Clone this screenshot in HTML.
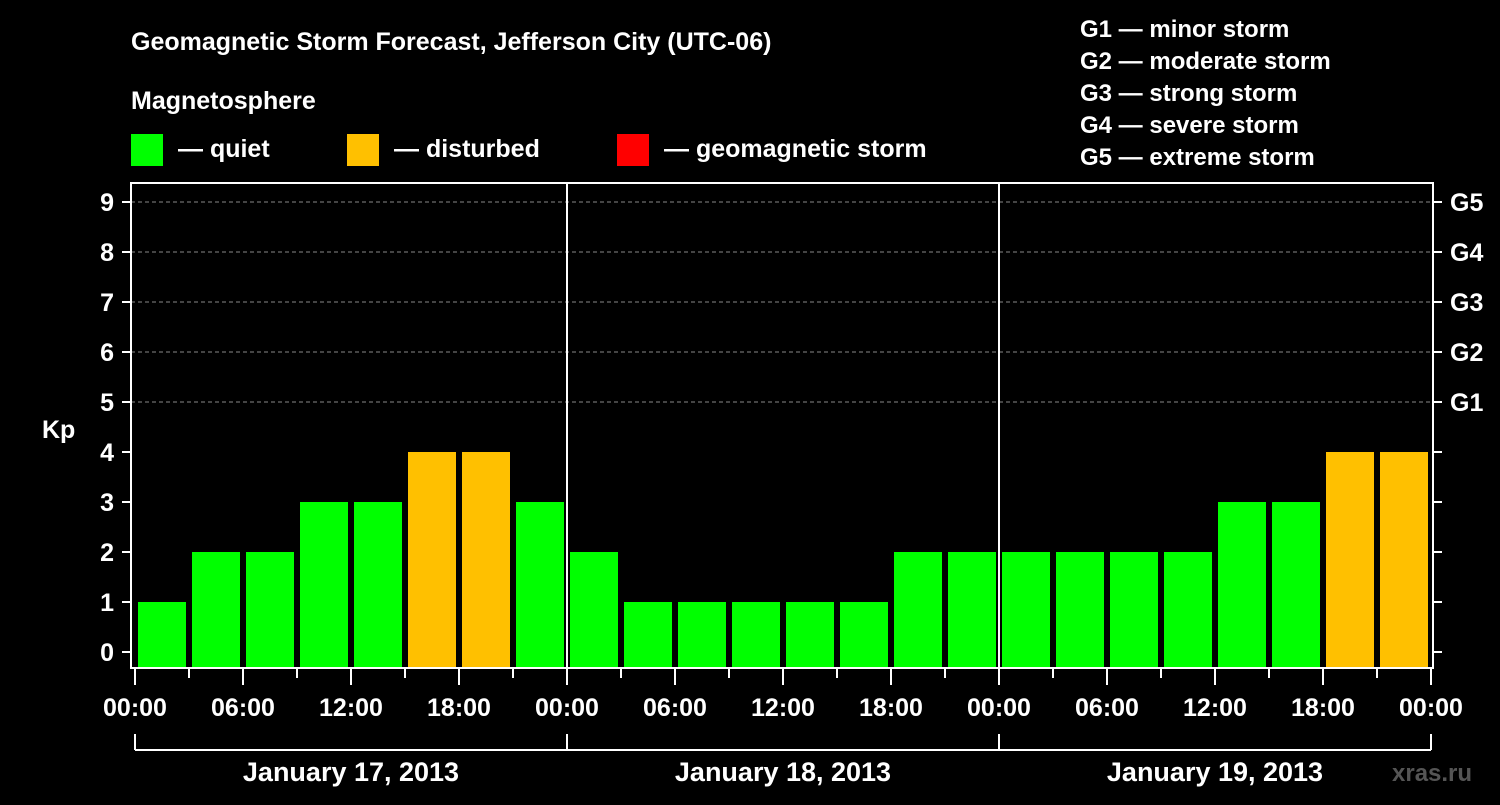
<!DOCTYPE html>
<html><head><meta charset="utf-8"><style>
html,body{margin:0;padding:0;background:#000;}
svg text{font-family:"Liberation Sans",Arial,sans-serif;font-weight:bold;fill:#fff;}
</style></head><body>
<svg id="c" width="1500" height="800" xmlns="http://www.w3.org/2000/svg">
<rect width="1500" height="800" fill="#000"/>
<text x="131" y="50" font-size="25">Geomagnetic Storm Forecast, Jefferson City (UTC-06)</text>
<text x="131" y="109" font-size="25">Magnetosphere</text>
<g>
<rect x="131" y="134" width="32" height="32" fill="#00ff00"/>
<text x="178" y="157" font-size="25">— quiet</text>
<rect x="347" y="134" width="32" height="32" fill="#ffc000"/>
<text x="394" y="157" font-size="25">— disturbed</text>
<rect x="617" y="134" width="32" height="32" fill="#ff0000"/>
<text x="664" y="157" font-size="25">— geomagnetic storm</text>
</g>
<g font-size="24">
<text x="1080" y="37">G1 — minor storm</text>
<text x="1080" y="69">G2 — moderate storm</text>
<text x="1080" y="101">G3 — strong storm</text>
<text x="1080" y="133">G4 — severe storm</text>
<text x="1080" y="165">G5 — extreme storm</text>
</g>
<text x="42" y="438" font-size="25">Kp</text>
<text x="1392" y="781" font-size="24" style="fill:#555">xras.ru</text>
<g id="grid"></g><g id="bars"></g><g id="axes"></g>
</svg>
<script>
const kpValues=[1,2,2,3,3,4,4,3, 2,1,1,1,1,1,2,2, 2,2,2,2,3,3,4,4];
const yTicks=[0,1,2,3,4,5,6,7,8,9];
const gLabels=["G1","G2","G3","G4","G5"];
const hourLabels=["00:00","06:00","12:00","18:00"];
const dayLabels=["January 17, 2013","January 18, 2013","January 19, 2013"];

const NS="http://www.w3.org/2000/svg";
const X0=135,HOUR=18,Y0=652,UNIT=50,L=131,R=1433,T=183,B=668;
const xs=h=>X0+h*HOUR, ys=v=>Y0-v*UNIT;
function mk(t,a,p){const e=document.createElementNS(NS,t);for(const k in a)e.setAttribute(k,a[k]);p.appendChild(e);return e;}
const grid=document.getElementById('grid'),bars=document.getElementById('bars'),axes=document.getElementById('axes');
yTicks.forEach(v=>{
  if(v>=5){const g=mk('line',{x1:L,x2:R,y1:ys(v),y2:ys(v),stroke:'#888','stroke-dasharray':'4,3','stroke-width':1},grid);
  }
  const t=mk('line',{x1:122,x2:L,y1:ys(v),y2:ys(v),stroke:'#fff','stroke-width':2},axes);
  
  const t2=mk('line',{x1:R,x2:1442,y1:ys(v),y2:ys(v),stroke:'#fff','stroke-width':2},axes);
  
  const lb=mk('text',{x:114,y:ys(v)+9,'font-size':25,'text-anchor':'end'},axes);lb.textContent=v;
  
});
gLabels.forEach((g,i)=>{const lb=mk('text',{x:1450,y:ys(5+i)+9,'font-size':25},axes);lb.textContent=g;
  });
kpValues.forEach((v,i)=>{
  const x=xs(i*3)+3;
  const r=mk('rect',{x:x,y:ys(v),width:48,height:B-1-ys(v),fill:v>=5?'#ff0000':(v>=4?'#ffc000':'#00ff00')},bars);
  
});
const fr=mk('rect',{x:L,y:T,width:R-L,height:B-T,fill:'none',stroke:'#fff','stroke-width':2},axes);

for(let d=1;d<dayLabels.length;d++){const l=mk('line',{x1:xs(d*24),x2:xs(d*24),y1:T,y2:B,stroke:'#fff','stroke-width':2},axes);
  }
for(let h=0;h<=72;h+=3){const major=h%6===0;
  const l=mk('line',{x1:xs(h),x2:xs(h),y1:B,y2:major?685:678,stroke:'#fff','stroke-width':2},axes);
  
  if(major){const lb=mk('text',{x:xs(h),y:716,'font-size':25,'text-anchor':'middle'},axes);lb.textContent=hourLabels[(h/6)%4];
    }}
const br=mk('line',{x1:xs(0),x2:xs(72),y1:750,y2:750,stroke:'#fff','stroke-width':2},axes);

for(let d=0;d<=dayLabels.length;d++){const l=mk('line',{x1:xs(d*24),x2:xs(d*24),y1:734,y2:750,stroke:'#fff','stroke-width':2},axes);
  }
dayLabels.forEach((s,d)=>{const lb=mk('text',{x:xs(d*24+12),y:781,'font-size':27,'text-anchor':'middle'},axes);lb.textContent=s;
  });
</script>
</body></html>
